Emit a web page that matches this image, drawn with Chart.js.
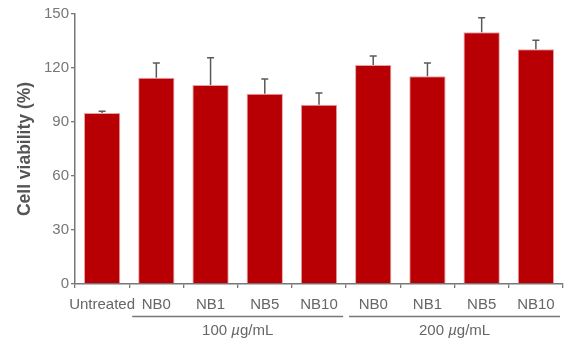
<!DOCTYPE html>
<html><head><meta charset="utf-8">
<script src="https://cdn.jsdelivr.net/npm/chart.js@4/dist/chart.umd.min.js"></script>
<style>html,body{margin:0;padding:0;background:#fff}#wrap{width:566px;height:342px}</style>
</head><body><div id="wrap"><canvas id="c" width="566" height="342"></canvas></div>
<script>
const categories = ["Untreated","NB0","NB1","NB5","NB10","NB0","NB1","NB5","NB10"];
const viability = [95, 114.6, 110.6, 105.7, 99.6, 121.7, 115.4, 139.8, 130.4];
const errors = [1, 8.2, 15.1, 8.2, 6.5, 5, 7.4, 8.1, 5];
const groups = [{label:"100 ", unit:"g/mL", from:1, to:4},{label:"200 ", unit:"g/mL", from:5, to:8}];
const yTicks = [0,30,60,90,120,150];

const FONT = "'Liberation Sans Narrow','Liberation Sans',Arial,sans-serif";
const errPlugin = {
  id:'err',
  afterDatasetsDraw(chart){
    const ctx = chart.ctx, x = chart.scales.x, y = chart.scales.y;
    ctx.save();
    ctx.strokeStyle = '#5a5a5a'; ctx.lineWidth = 1.5;
    viability.forEach((v,i)=>{
      const px = x.getPixelForValue(i);
      const top = y.getPixelForValue(v+errors[i]);
      const base = y.getPixelForValue(v);
      ctx.beginPath(); ctx.moveTo(px,base); ctx.lineTo(px,top);
      ctx.moveTo(px-3.5,top); ctx.lineTo(px+3.5,top); ctx.stroke();
    });
    ctx.restore();
  },
  afterDraw(chart){
    const ctx = chart.ctx, x = chart.scales.x;
    const half = (x.getPixelForValue(1)-x.getPixelForValue(0))/2;
    ctx.save();
    groups.forEach(g=>{
      const x0 = x.getPixelForValue(g.from)-half+3, x1 = x.getPixelForValue(g.to)+half-3;
      ctx.strokeStyle='#777'; ctx.lineWidth=1.3;
      ctx.beginPath(); ctx.moveTo(x0,316.5); ctx.lineTo(x1,316.5); ctx.stroke();
      ctx.fillStyle='#666'; ctx.textBaseline='middle';
      const f1 = "15px "+FONT, f2 = "italic 15px "+FONT;
      ctx.font=f1; const w1=ctx.measureText(g.label).width, w3=ctx.measureText(g.unit).width;
      ctx.font=f2; const w2=ctx.measureText("\u00b5").width;
      let sx=(x0+x1)/2-(w1+w2+w3)/2;
      ctx.font=f1; ctx.textAlign='left'; ctx.fillText(g.label,sx,331);
      ctx.font=f2; ctx.fillText("\u00b5",sx+w1,331);
      ctx.font=f1; ctx.fillText(g.unit,sx+w1+w2,331);
    });
    ctx.restore();
  }
};

new Chart(document.getElementById('c'),{
  type:'bar',
  data:{labels:categories,datasets:[{data:viability,backgroundColor:'#b80004',borderColor:'#e7a3a3',borderWidth:1,barPercentage:0.67,categoryPercentage:1}]},
  options:{
    responsive:false,animation:false,
    layout:{padding:{top:14,right:3,left:0,bottom:0}},
    plugins:{legend:{display:false},tooltip:{enabled:false}},
    scales:{
      x:{
        grid:{drawOnChartArea:false,drawTicks:true,tickLength:4,color:'#777',lineWidth:1.3,offset:true},
        border:{color:'#777',width:1.5},
        ticks:{color:'#666',font:{size:15,family:FONT},padding:8,maxRotation:0,autoSkip:false},
        afterFit(s){s.height=58;}
      },
      y:{
        min:0,max:150,
        afterBuildTicks(s){s.ticks=yTicks.map(v=>({value:v}));},
        grid:{drawOnChartArea:false,drawTicks:true,tickLength:4,color:'#777',lineWidth:1.3},
        border:{color:'#777',width:1.5},
        ticks:{color:'#777',font:{size:15,family:FONT},padding:2},
        title:{display:true,text:'Cell viability (%)',color:'#555',font:{size:17.5,weight:'bold',family:"'Liberation Sans',Arial,sans-serif"},padding:{top:15,bottom:4}},
        afterFit(s){s.width=75;}
      }
    }
  },
  plugins:[errPlugin]
});
</script></body></html>
